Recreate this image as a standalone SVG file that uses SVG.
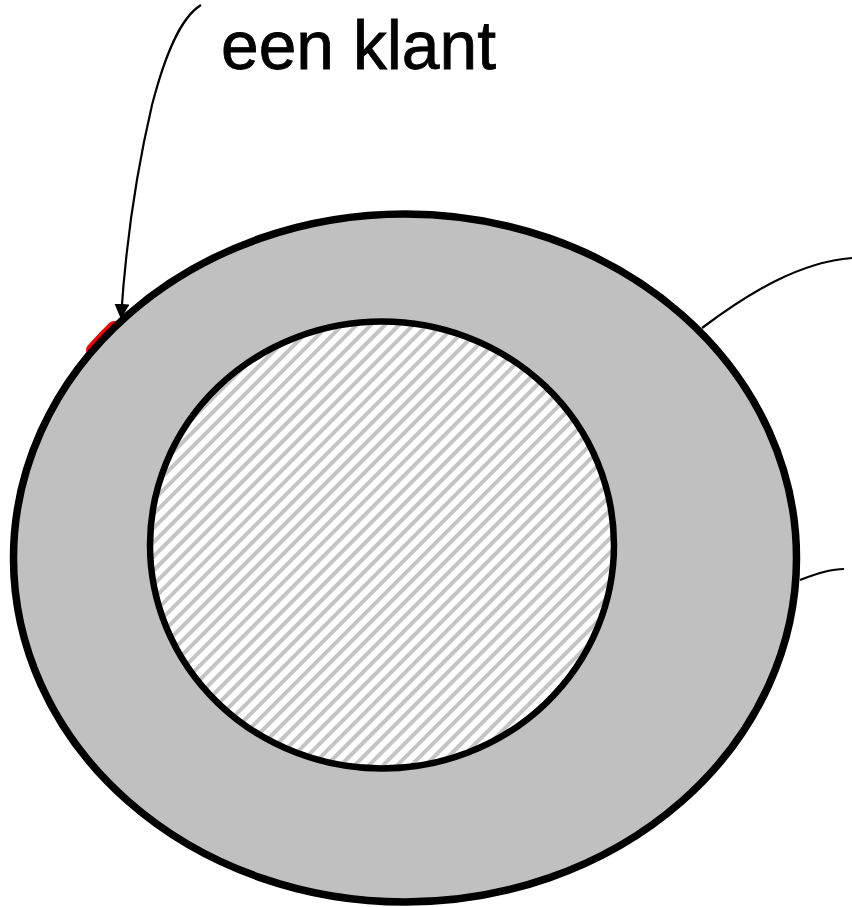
<svg xmlns="http://www.w3.org/2000/svg" width="852" height="907" viewBox="0 0 852 907">
  <style>
    .lbl { font-family: "Liberation Sans", Arial, sans-serif; font-size: 68px; fill: #000; stroke: #000; stroke-width: 0.8px; }
    .conn { fill: none; stroke: #000; stroke-width: 2.2; }
  </style>
  <defs>
    <pattern id="hatch" patternUnits="userSpaceOnUse" width="10" height="10" patternTransform="rotate(45)">
      <rect x="0" y="0" width="10" height="10" fill="#ffffff"/>
      <rect x="0" y="0" width="4" height="10" fill="#c4c4c4"/>
    </pattern>
    <marker id="arrow" markerUnits="userSpaceOnUse" markerWidth="16" markerHeight="16" refX="14" refY="7.5" orient="auto">
      <path d="M0,0 L15,7.5 L0,15 Z" fill="#000"/>
    </marker>
  </defs>
  <rect width="852" height="907" fill="#ffffff"/>

  <g id="red-mark">
    <path d="M 93 350.2 A 391.5 344 0 0 1 114 328" fill="none" stroke="#ff0000" stroke-width="14" stroke-linecap="round"/>
  </g>

  <g id="outer">
    <ellipse cx="405" cy="558" rx="391.5" ry="344" fill="#c0c0c0" stroke="#000" stroke-width="7.5"/>
  </g>

  <g id="inner">
    <ellipse cx="382" cy="545" rx="232" ry="223.5" fill="url(#hatch)" stroke="#000" stroke-width="6.5"/>
  </g>

  <g id="label">
    <text class="lbl" x="221" y="69" textLength="275" lengthAdjust="spacingAndGlyphs">een klant</text>
  </g>

  <g id="connectors">
    <path class="conn" d="M 201 5 C 180 18, 165 55, 152 105 C 138 165, 126 240, 121 318" marker-end="url(#arrow)"/>
    <path class="conn" d="M 702 328 C 750 292, 800 262, 852 258"/>
    <path class="conn" d="M 800 580 C 815 574, 830 569, 844 569"/>
  </g>
</svg>
